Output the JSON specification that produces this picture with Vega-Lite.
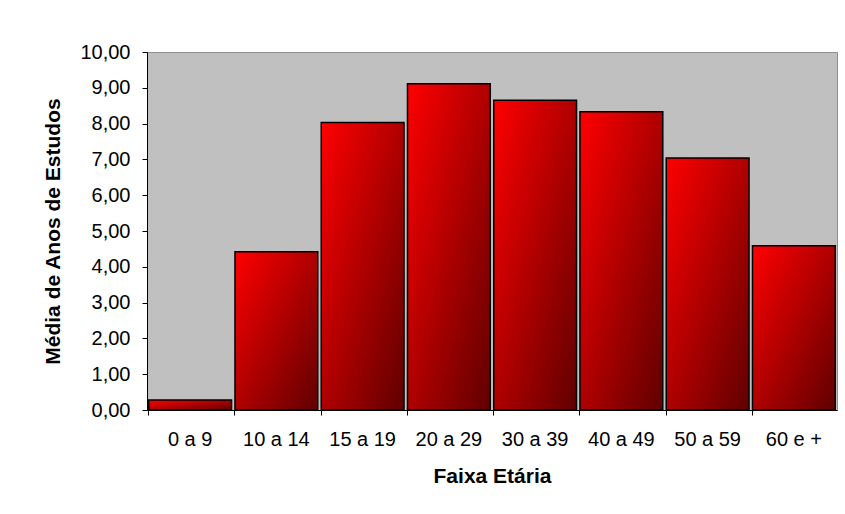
{
  "$schema": "https://vega.github.io/schema/vega-lite/v6.json",
  "width": 690,
  "height": 358,
  "autosize": "none",
  "padding": {"left": 147, "top": 52, "right": 8, "bottom": 104},
  "background": "white",
  "data": {"values": [
    {"faixa": "0 a 9", "media": 0.28},
    {"faixa": "10 a 14", "media": 4.42},
    {"faixa": "15 a 19", "media": 8.03},
    {"faixa": "20 a 29", "media": 9.11},
    {"faixa": "30 a 39", "media": 8.65},
    {"faixa": "40 a 49", "media": 8.33},
    {"faixa": "50 a 59", "media": 7.04},
    {"faixa": "60 e +", "media": 4.59}
  ]},
  "mark": {
    "type": "bar",
    "stroke": "black",
    "strokeWidth": 1.5,
    "color": {
      "gradient": "linear",
      "x1": 0, "y1": 0, "x2": 1, "y2": 1,
      "stops": [
        {"offset": 0, "color": "#ff0000"},
        {"offset": 1, "color": "#600000"}
      ]
    }
  },
  "encoding": {
    "x": {
      "field": "faixa",
      "type": "nominal",
      "sort": null,
      "scale": {"paddingInner": 0.04, "paddingOuter": 0.02},
      "axis": {
        "title": "Faixa Etária",
        "labelAngle": 0,
        "bandPosition": 0,
        "labelPadding": 14,
        "titlePadding": 16
      }
    },
    "y": {
      "field": "media",
      "type": "quantitative",
      "scale": {"domain": [0, 10], "nice": false},
      "axis": {
        "title": "Média de Anos de Estudos",
        "values": [0, 1, 2, 3, 4, 5, 6, 7, 8, 9, 10],
        "labelExpr": "replace(format(datum.value, '.2f'), '.', ',')",
        "grid": false,
        "labelPadding": 12,
        "titlePadding": 16
      }
    }
  },
  "config": {
    "view": {"fill": "#c0c0c0", "stroke": "#909090", "strokeWidth": 1},
    "axis": {
      "labelFont": "Liberation Sans",
      "titleFont": "Liberation Sans",
      "labelFontSize": 20,
      "titleFontSize": 21,
      "titleFontWeight": "bold",
      "labelColor": "black",
      "titleColor": "black",
      "domainColor": "black",
      "tickColor": "black",
      "tickSize": 5,
      "domainWidth": 1,
      "tickWidth": 1
    }
  }
}
